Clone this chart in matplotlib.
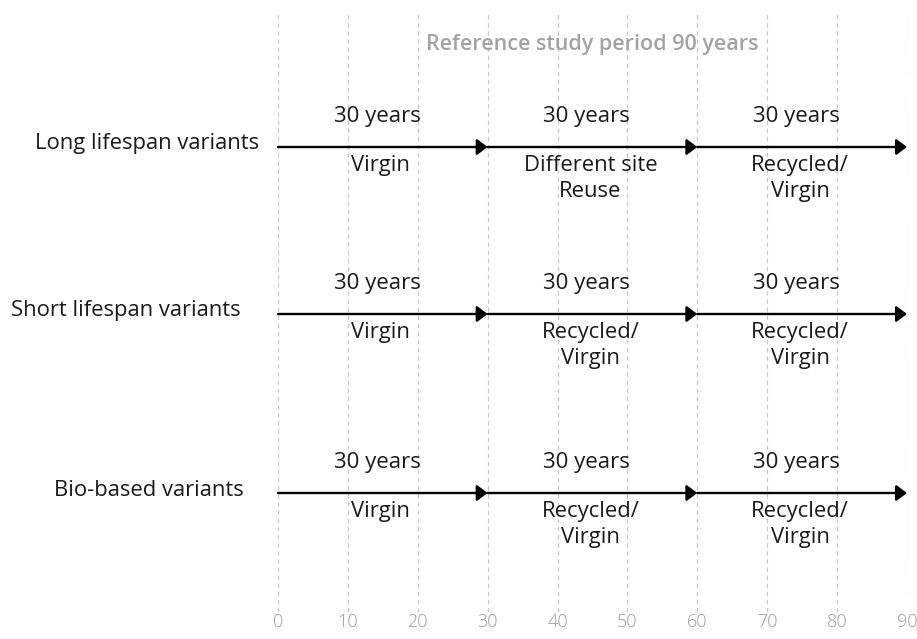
import matplotlib
matplotlib.use("Agg")
import matplotlib.pyplot as plt

plt.rcParams["font.family"] = ["Open Sans", "DejaVu Sans"]

# study period split into three 30-year stages
stage_starts = [0, 30, 60]
stage_ends = [30, 60, 90]
stage_top = ["30 years", "30 years", "30 years"]

variants = ["Long lifespan variants", "Short lifespan variants", "Bio-based variants"]
stage_bottom = [
    ["Virgin", "Different site\nReuse", "Recycled/\nVirgin"],
    ["Virgin", "Recycled/\nVirgin", "Recycled/\nVirgin"],
    ["Virgin", "Recycled/\nVirgin", "Recycled/\nVirgin"],
]
x_ticks = [0, 10, 20, 30, 40, 50, 60, 70, 80, 90]
title = "Reference study period 90 years"

# layout: axes y runs in image pixels (top 13 px, bottom 612 px)
row_y = [147, 314, 493]
label_right = [259, 241, 244]

W, H = 917, 639
fig = plt.figure(figsize=(W / 100, H / 100), dpi=100)
ax = fig.add_axes([278 / W, 1 - 612 / H, (907 - 278) / W, (612 - 13) / H])
ax.set_xlim(0, 90)
ax.set_ylim(612, 13)

for t in x_ticks:
    ax.axvline(t, color="#c8c8c8", linestyle=(0, (3.5, 3)), linewidth=0.9, zorder=0)

ax.set_xticks(x_ticks)
ax.set_yticks([])
ax.tick_params(axis="x", length=0, pad=1, labelsize=13, labelcolor="#9a9a9a")
for lab in ax.get_xticklabels():
    lab.set_fontweight("light")
for s in ax.spines.values():
    s.set_visible(False)

ax.text(45, 45, title, ha="center", va="center", fontsize=15.5,
        fontweight="semibold", color="#a3a3a3")

for i, name in enumerate(variants):
    y = row_y[i]
    fig.text(label_right[i] / W, 1 - (y - 3) / H, name, ha="right", va="center",
             fontsize=15.8, color="#1a1a1a")
    for j in range(3):
        ax.annotate("", xy=(stage_ends[j], y), xytext=(stage_starts[j], y),
                    arrowprops=dict(arrowstyle="-|>,head_length=0.4,head_width=0.3",
                                    color="black", lw=1.7, mutation_scale=16,
                                    shrinkA=0, shrinkB=0))
        xm = (stage_starts[j] + stage_ends[j]) / 2
        ax.text(xm - 0.8, y - 30, stage_top[j], ha="center", va="center",
                fontsize=16, color="#1a1a1a")
        ax.text(xm - 0.3, y + 8, stage_bottom[i][j], ha="center", va="top",
                fontsize=15.8, color="#1a1a1a", linespacing=1.3)

fig.savefig("out.png", dpi=100)
